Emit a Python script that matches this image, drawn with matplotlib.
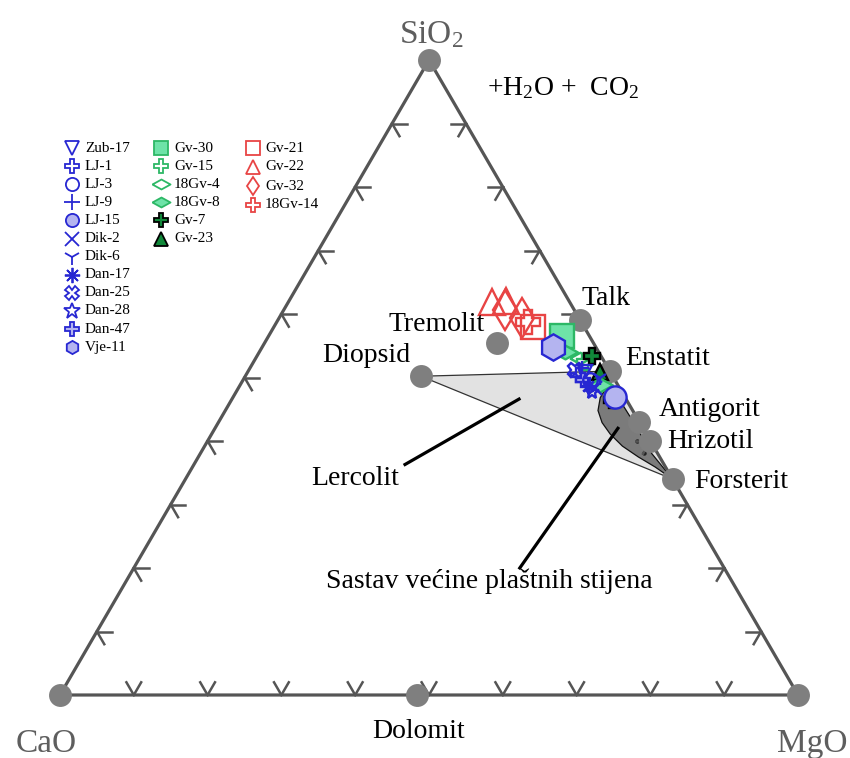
import matplotlib
matplotlib.use("Agg")
import matplotlib.pyplot as plt
from matplotlib.lines import Line2D
import numpy as np

plt.rcParams['font.family'] = ['Liberation Serif', 'DejaVu Serif']
plt.rcParams['mathtext.fontset'] = 'custom'
plt.rcParams['mathtext.rm'] = 'Liberation Serif'
plt.rcParams['mathtext.it'] = 'Liberation Serif:italic'

# ---------------- data (mol %, CaO / MgO / SiO2) ----------------
mineral_names = ['SiO2', 'CaO', 'MgO', 'Talk', 'Tremolit', 'Diopsid', 'Enstatit',
                 'Antigorit', 'Hrizotil', 'Forsterit', 'Dolomit']
mineral_CaO = [0, 100, 0, 0, 13.1, 26.0, 0, 0, 0, 0, 51.6]
mineral_MgO = [0, 0, 100, 41, 31.5, 23.8, 49, 57, 60, 66, 48.4]
mineral_SiO2 = [100, 0, 0, 59, 55.4, 50.2, 51, 43, 40, 34, 0]

# Lherzolite field: Diopsid - Enstatit - Forsterit
lherz_CaO = [26.0, 0, 0]
lherz_MgO = [23.8, 49, 66]
lherz_SiO2 = [50.2, 51, 34]

# composition of most mantle rocks (outline)
mantle_CaO = [1.8, 3.4, 4.7, 5.1, 4.9, 4.2, 2.9, 1.4, 0.0, 0.8, 0.8, 1.0]
mantle_MgO = [49.8, 49.8, 50.5, 52.0, 54.0, 56.6, 59.6, 62.7, 66.0, 61.2, 56.2, 51.0]
mantle_SiO2 = [48.4, 46.8, 44.8, 42.9, 41.1, 39.2, 37.5, 35.9, 34.0, 38.0, 43.0, 48.0]
mantle_dots_CaO = [1.8, 1.8]
mantle_dots_MgO = [58.2, 60.1]
mantle_dots_SiO2 = [40.0, 38.1]

# leader lines (start, end)
lerc_CaO = [14.5, 35.1]
lerc_MgO = [38.9, 28.6]
lerc_SiO2 = [46.6, 36.3]
sast_CaO = [3.4, 27.7]
sast_MgO = [54.6, 52.3]
sast_SiO2 = [42.0, 20.0]

# samples
sample_names = ['Gv-22', 'Gv-22', 'Gv-32', 'Gv-32', '18Gv-14', 'Gv-21',
                'Gv-30', '18Gv-8', '18Gv-4', 'Gv-15', 'Gv-7', 'Gv-23', '18Gv-8', 'Gv-7',
                'Vje-11', 'Dan-25', 'LJ-1', 'LJ-9', 'Zub-17', 'Dan-47', 'LJ-3', 'Dan-17',
                'Dik-6', 'Dik-2', 'Dan-28', 'LJ-15']
sample_CaO = [10.5, 8.5, 9.4, 7.7, 7.2, 6.9,
              3.7, 4.6, 3.0, 2.6, 1.2, 1.4, 2.4, 2.0,
              5.8, 4.6, 4.6, 3.5, 3.4, 4.3, 3.4, 4.1,
              1.9, 3.3, 4.1, 1.3]
sample_MgO = [27.6, 29.4, 30.0, 32.9, 34.0, 35.1,
              39.8, 41.4, 43.9, 44.9, 45.4, 47.7, 48.8, 51.6,
              39.4, 44.2, 45.0, 45.0, 45.7, 46.1, 47.0, 47.2,
              48.2, 48.3, 48.2, 51.7]
sample_SiO2 = [61.9, 62.1, 60.6, 59.4, 58.8, 58.0,
               56.5, 54.0, 53.1, 52.4, 53.4, 50.9, 48.8, 46.4,
               54.8, 51.2, 50.4, 51.5, 50.9, 49.6, 49.6, 48.7,
               49.9, 48.4, 47.7, 46.9]

legend_col1 = ['Zub-17', 'LJ-1', 'LJ-3', 'LJ-9', 'LJ-15', 'Dik-2', 'Dik-6',
               'Dan-17', 'Dan-25', 'Dan-28', 'Dan-47', 'Vje-11']
legend_col2 = ['Gv-30', 'Gv-15', '18Gv-4', '18Gv-8', 'Gv-7', 'Gv-23']
legend_col3 = ['Gv-21', 'Gv-22', 'Gv-32', '18Gv-14']

# ---------------- styles ----------------
blue = '#2727d2'
lblue = '#b4b4f0'
red = '#e84444'
green = '#2db866'
lgreen = '#6ee3a8'
dgreen = '#11883a'
wdiam = [(-1, 0), (0, 0.55), (1, 0), (0, -0.55), (-1, 0)]

styles = {
    'Zub-17': dict(marker='v', mfc='none', mec=blue),
    'LJ-1': dict(marker='P', mfc='none', mec=blue),
    'LJ-3': dict(marker='o', mfc='none', mec=blue),
    'LJ-9': dict(marker='+', mfc='none', mec=blue),
    'LJ-15': dict(marker='o', mfc=lblue, mec=blue),
    'Dik-2': dict(marker='x', mfc='none', mec=blue),
    'Dik-6': dict(marker='1', mfc='none', mec=blue),
    'Dan-17': dict(marker=(8, 2, 0), mfc='none', mec=blue),
    'Dan-25': dict(marker='X', mfc='none', mec=blue),
    'Dan-28': dict(marker='*', mfc='none', mec=blue),
    'Dan-47': dict(marker='P', mfc=lblue, mec=blue),
    'Vje-11': dict(marker='h', mfc=lblue, mec=blue),
    'Gv-30': dict(marker='s', mfc=lgreen, mec=green),
    'Gv-15': dict(marker='P', mfc='none', mec=green),
    '18Gv-4': dict(marker=wdiam, mfc='none', mec=green),
    '18Gv-8': dict(marker=wdiam, mfc=lgreen, mec=green),
    'Gv-7': dict(marker='P', mfc=dgreen, mec='black'),
    'Gv-23': dict(marker='^', mfc=dgreen, mec='black'),
    'Gv-21': dict(marker='s', mfc='none', mec=red),
    'Gv-22': dict(marker='^', mfc='none', mec=red),
    'Gv-32': dict(marker='d', mfc='none', mec=red),
    '18Gv-14': dict(marker='P', mfc='none', mec=red),
}
plot_size = {'Gv-22': 19, 'Gv-32': 20, '18Gv-14': 17, 'Gv-21': 17, 'Gv-30': 17,
             '18Gv-8': 18, '18Gv-4': 15, 'Vje-11': 19, 'LJ-15': 16, 'Gv-7': 12,
             'Gv-23': 11, 'Gv-15': 12}
leg_size = {'Dik-6': 12, 'Dan-28': 12, 'Dan-17': 11, '18Gv-4': 13, '18Gv-8': 13,
            'LJ-9': 11, 'Dik-2': 10}


def tern(c, m, s):
    c, m, s = np.asarray(c, float), np.asarray(m, float), np.asarray(s, float)
    tot = c + m + s
    mm, ss = m / tot, s / tot
    return mm + ss / 2.0, ss


W, H = 850, 758
fig = plt.figure(figsize=(W / 100, H / 100), dpi=100)
ax = fig.add_axes([0, 0, 1, 1])
ax.set_xlim(-60 / 738, 790 / 738)
ax.set_ylim(-63 / 635, 695 / 635)
ax.axis('off')

edge = '#555555'

# lherzolite field
lx, ly = tern(lherz_CaO, lherz_MgO, lherz_SiO2)
ax.fill(lx, ly, facecolor='#e2e2e2', edgecolor='#333333', lw=0.9, zorder=1)

# mantle composition
mx, my = tern(mantle_CaO, mantle_MgO, mantle_SiO2)
ax.fill(mx, my, facecolor='#7b7b7b', edgecolor='#111111', lw=0.9, zorder=2)
dx, dy = tern(mantle_dots_CaO, mantle_dots_MgO, mantle_dots_SiO2)
ax.plot(dx, dy, 'o', color='#222222', ms=2.2, zorder=3)

# triangle outline
vx, vy = tern([100, 0, 0, 100], [0, 100, 0, 0], [0, 0, 100, 0])
ax.plot(vx, vy, color=edge, lw=2.3, zorder=3, solid_joinstyle='miter')

# chevron ticks every 10 %
d = 2.0
for i in range(1, 10):
    v = i * 10.0
    # left edge (CaO-SiO2)
    x0, y0 = tern(100 - v, 0, v)
    for (c, m, s) in [(100 - v - d, d, v), (100 - v, d, v - d)]:
        x1, y1 = tern(c, m, s)
        ax.plot([x0, x1], [y0, y1], color=edge, lw=1.8, zorder=3)
    # bottom edge (CaO-MgO)
    x0, y0 = tern(100 - v, v, 0)
    for (c, m, s) in [(100 - v - d, v, d), (100 - v, v - d, d)]:
        x1, y1 = tern(c, m, s)
        ax.plot([x0, x1], [y0, y1], color=edge, lw=1.8, zorder=3)
    # right edge (MgO-SiO2)
    x0, y0 = tern(0, 100 - v, v)
    for (c, m, s) in [(d, 100 - v - d, v), (d, 100 - v, v - d)]:
        x1, y1 = tern(c, m, s)
        ax.plot([x0, x1], [y0, y1], color=edge, lw=1.8, zorder=3)

# leader lines
for cc, mm_, ss in [(lerc_CaO, lerc_MgO, lerc_SiO2), (sast_CaO, sast_MgO, sast_SiO2)]:
    x, y = tern(cc, mm_, ss)
    ax.plot(x, y, color='black', lw=2.3, zorder=4)

# mineral points
px, py = tern(mineral_CaO, mineral_MgO, mineral_SiO2)
ax.plot(px, py, 'o', color='#7f7f7f', ms=16.5, mec='none', zorder=5)

# samples
sx, sy = tern(sample_CaO, sample_MgO, sample_SiO2)
for name, x, y in zip(sample_names, sx, sy):
    st = styles[name]
    ax.plot([x], [y], linestyle='none', marker=st['marker'], mfc=st['mfc'],
            mec=st['mec'], mew=1.7, ms=plot_size.get(name, 10.5), zorder=6)

# labels
fs = 20
lab_off = {'Talk': (26, 22), 'Tremolit': (-60, 19), 'Diopsid': (-55, 21),
           'Enstatit': (58, 13), 'Antigorit': (70, 12), 'Hrizotil': (60, 0),
           'Forsterit': (69, -2), 'Dolomit': (1, -36)}
for name, x, y in zip(mineral_names, px, py):
    if name in lab_off:
        ax.annotate(name, (x, y), xytext=lab_off[name], textcoords='offset pixels',
                    ha='center', va='center', fontsize=fs, color='black', zorder=7)

vcol = '#5e5e5e'
ax.annotate('SiO$_2$', (px[0], py[0]), xytext=(2, 25), textcoords='offset pixels',
            ha='center', va='center', fontsize=24, color=vcol)
ax.annotate('CaO', (px[1], py[1]), xytext=(-14, -49), textcoords='offset pixels',
            ha='center', va='center', fontsize=24, color=vcol)
ax.annotate('MgO', (px[2], py[2]), xytext=(14, -49), textcoords='offset pixels',
            ha='center', va='center', fontsize=24, color=vcol)

lx0, ly0 = tern(lerc_CaO[1], lerc_MgO[1], lerc_SiO2[1])
ax.annotate('Lercolit', (lx0, ly0), xytext=(-50, -14), textcoords='offset pixels',
            ha='center', va='center', fontsize=fs)
sx0, sy0 = tern(sast_CaO[1], sast_MgO[1], sast_SiO2[1])
ax.annotate('Sastav većine plaštnih stijena', (sx0, sy0), xytext=(-30, -13),
            textcoords='offset pixels', ha='center', va='center', fontsize=fs)

fig.text(487 / W, 1 - 88 / H, '+H$_2$O +  CO$_2$', ha='left', va='center', fontsize=fs)

# legend (manual, three columns)
def legend_col(names, mx_px, tx_px, y0_px, step):
    for k, nm in enumerate(names):
        ypx = y0_px + k * step
        st = styles[nm]
        fig.add_artist(Line2D([mx_px / W], [1 - ypx / H], linestyle='none',
                              marker=st['marker'], mfc=st['mfc'], mec=st['mec'],
                              mew=1.3, ms=leg_size.get(nm, 9.5), transform=fig.transFigure))
        fig.text(tx_px / W, 1 - ypx / H, nm, ha='left', va='center', fontsize=11)

legend_col(legend_col1, 72, 85, 148, 18.1)
legend_col(legend_col2, 161, 174, 148, 18.1)
legend_col(legend_col3, 253, 265, 148, 19.0)

fig.savefig('out.png', dpi=100)
